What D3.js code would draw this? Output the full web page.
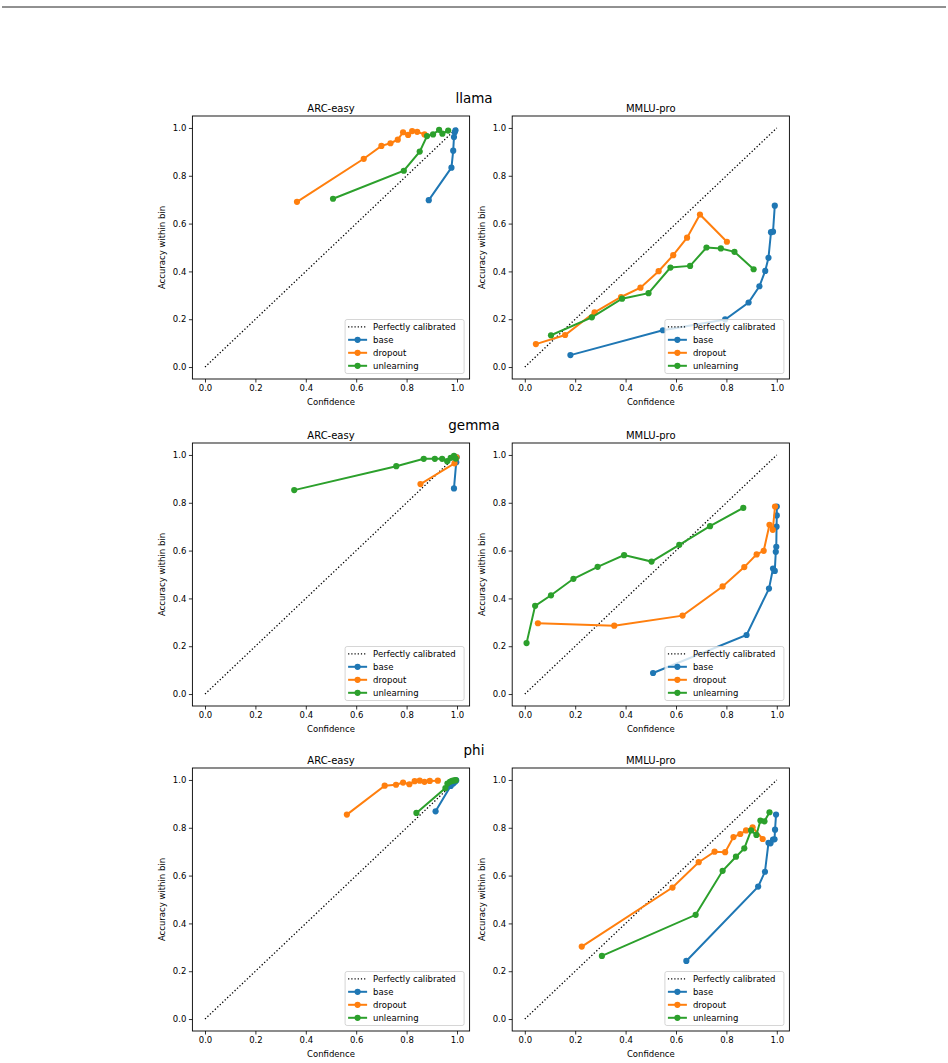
<!DOCTYPE html>
<html><head><meta charset="utf-8">
<script src="https://cdn.jsdelivr.net/npm/d3@7/dist/d3.min.js"></script>
<style>body{margin:0;background:#fff}svg{display:block}text{font-family:"DejaVu Sans",sans-serif}</style>
</head><body>
<script>
const models = ["llama", "gemma", "phi"];
const datasets = ["ARC-easy", "MMLU-pro"];
const seriesNames = ["base", "dropout", "unlearning"];
const seriesColors = ["#1f77b4", "#ff7f0e", "#2ca02c"];
const tickValues = [0, 0.2, 0.4, 0.6, 0.8, 1.0];
const tickLabels = ["0.0", "0.2", "0.4", "0.6", "0.8", "1.0"];

// [confidence, accuracy] pairs
const llamaArcBase = [[0.888,0.698],[0.978,0.834],[0.985,0.905],[0.988,0.962],[0.991,0.982],[0.994,0.99]];
const llamaArcDropout = [[0.365,0.691],[0.63,0.871],[0.70,0.925],[0.736,0.936],[0.765,0.951],[0.786,0.982],[0.806,0.971],[0.822,0.987],[0.842,0.984],[0.871,0.973]];
const llamaArcUnlearning = [[0.508,0.704],[0.789,0.821],[0.852,0.901],[0.881,0.966],[0.905,0.973],[0.929,0.992],[0.942,0.976],[0.965,0.989]];
const llamaMmluBase = [[0.181,0.050],[0.548,0.154],[0.795,0.199],[0.888,0.270],[0.931,0.338],[0.954,0.402],[0.967,0.457],[0.977,0.564],[0.985,0.566],[0.992,0.675]];
const llamaMmluDropout = [[0.044,0.096],[0.160,0.134],[0.277,0.229],[0.382,0.293],[0.459,0.332],[0.531,0.401],[0.589,0.468],[0.644,0.541],[0.695,0.638],[0.802,0.524]];
const llamaMmluUnlearning = [[0.104,0.133],[0.266,0.208],[0.386,0.286],[0.491,0.309],[0.578,0.416],[0.656,0.423],[0.721,0.500],[0.778,0.496],[0.832,0.482],[0.908,0.409]];

const gemmaArcBase = [[0.988,0.86],[0.997,0.97],[0.999,0.99]];
const gemmaArcDropout = [[0.855,0.878],[0.99,0.965],[0.995,0.985],[0.998,0.99]];
const gemmaArcUnlearning = [[0.354,0.853],[0.759,0.953],[0.868,0.984],[0.912,0.984],[0.941,0.984],[0.961,0.974],[0.975,0.988],[0.988,0.996],[0.995,0.985]];
const gemmaMmluBase = [[0.509,0.088],[0.880,0.247],[0.969,0.441],[0.985,0.525],[0.992,0.515],[0.996,0.595],[0.998,0.616],[0.999,0.70],[1.0,0.747],[1.0,0.784]];
const gemmaMmluDropout = [[0.052,0.296],[0.355,0.286],[0.626,0.328],[0.785,0.450],[0.871,0.531],[0.920,0.584],[0.948,0.599],[0.971,0.708],[0.984,0.687],[0.993,0.784]];
const gemmaMmluUnlearning = [[0.007,0.213],[0.041,0.369],[0.104,0.413],[0.193,0.482],[0.289,0.532],[0.394,0.581],[0.503,0.554],[0.613,0.624],[0.735,0.702],[0.867,0.779]];

const phiArcBase = [[0.915,0.869],[0.975,0.975],[0.985,0.985],[0.992,0.993],[0.997,0.998]];
const phiArcDropout = [[0.563,0.855],[0.713,0.976],[0.758,0.980],[0.786,0.989],[0.811,0.982],[0.832,0.995],[0.852,0.997],[0.871,0.992],[0.892,0.996],[0.924,0.997]];
const phiArcUnlearning = [[0.839,0.862],[0.954,0.966],[0.962,0.985],[0.972,0.992],[0.98,0.996],[0.988,0.998],[0.995,0.999]];
const phiMmluBase = [[0.641,0.243],[0.926,0.554],[0.953,0.616],[0.967,0.737],[0.975,0.735],[0.985,0.751],[0.991,0.752],[0.993,0.792],[0.997,0.855]];
const phiMmluDropout = [[0.226,0.303],[0.586,0.550],[0.690,0.656],[0.753,0.700],[0.795,0.698],[0.828,0.761],[0.855,0.774],[0.878,0.789],[0.904,0.802],[0.944,0.753]];
const phiMmluUnlearning = [[0.306,0.264],[0.678,0.436],[0.785,0.620],[0.838,0.679],[0.871,0.714],[0.898,0.789],[0.919,0.770],[0.935,0.830],[0.951,0.827],[0.971,0.865]];

const panels = [
  [[llamaArcBase, llamaArcDropout, llamaArcUnlearning], [llamaMmluBase, llamaMmluDropout, llamaMmluUnlearning]],
  [[gemmaArcBase, gemmaArcDropout, gemmaArcUnlearning], [gemmaMmluBase, gemmaMmluDropout, gemmaMmluUnlearning]],
  [[phiArcBase, phiArcDropout, phiArcUnlearning], [phiMmluBase, phiMmluDropout, phiMmluUnlearning]]
];

const W = 948, H = 1063;
const svg = d3.select("body").append("svg").attr("width", W).attr("height", H);

svg.append("line").attr("x1", 2).attr("x2", 946).attr("y1", 7).attr("y2", 7)
  .attr("stroke", "#222").attr("stroke-width", 1);

const rowTops = [116, 443, 768];
const colLefts = [192.4, 512.2];
const pw = 277.2, ph = 263;

const x = d3.scaleLinear().domain([-0.05, 1.05]).range([0, pw]);
const y = d3.scaleLinear().domain([-0.05, 1.05]).range([ph, 0]);

models.forEach((m, r) => {
  svg.append("text").attr("x", 474).attr("y", rowTops[r] - 13).attr("text-anchor", "middle")
    .attr("font-size", 13.5).text(m);
  datasets.forEach((ds, c) => {
    const g = svg.append("g").attr("transform", `translate(${colLefts[c]},${rowTops[r]})`);
    g.append("text").attr("x", pw / 2).attr("y", -4).attr("text-anchor", "middle")
      .attr("font-size", 10).text(ds);

    const xa = g.append("g").attr("transform", `translate(0,${ph})`)
      .call(d3.axisBottom(x).tickValues(tickValues).tickFormat((d, i) => tickLabels[i]).tickSize(3.5).tickPadding(2.5));
    const ya = g.append("g")
      .call(d3.axisLeft(y).tickValues(tickValues).tickFormat((d, i) => tickLabels[i]).tickSize(3.5).tickPadding(2.5));
    [xa, ya].forEach(a => {
      a.select(".domain").remove();
      a.selectAll("text").attr("font-size", 8.5).attr("fill", "#000").attr("font-family", "DejaVu Sans");
      a.selectAll("line").attr("stroke", "#000").attr("stroke-width", 0.8);
    });
    g.append("text").attr("x", pw / 2).attr("y", ph + 26).attr("text-anchor", "middle")
      .attr("font-size", 8.5).text("Confidence");
    g.append("text").attr("transform", `translate(${-27},${ph / 2}) rotate(-90)`).attr("text-anchor", "middle")
      .attr("font-size", 8.5).text("Accuracy within bin");

    const clipId = `clip${r}${c}`;
    g.append("clipPath").attr("id", clipId).append("rect").attr("width", pw).attr("height", ph);
    const plot = g.append("g").attr("clip-path", `url(#${clipId})`);

    plot.append("line").attr("x1", x(0)).attr("y1", y(0)).attr("x2", x(1)).attr("y2", y(1))
      .attr("stroke", "#000").attr("stroke-width", 1.3).attr("stroke-dasharray", "1.3,2.1");

    const line = d3.line().x(d => x(d[0])).y(d => y(d[1]));
    panels[r][c].forEach((data, s) => {
      plot.append("path").datum(data).attr("d", line).attr("fill", "none")
        .attr("stroke", seriesColors[s]).attr("stroke-width", 2);
      plot.selectAll(null).data(data).enter().append("circle")
        .attr("cx", d => x(d[0])).attr("cy", d => y(d[1])).attr("r", 3.1)
        .attr("fill", seriesColors[s]);
    });

    g.append("rect").attr("width", pw).attr("height", ph).attr("fill", "none")
      .attr("stroke", "#000").attr("stroke-width", 0.9);

    // legend
    const lw = 119, lh = 54;
    const lg = g.append("g").attr("transform", `translate(${pw - 5.5 - lw},${ph - 5.5 - lh})`);
    lg.append("rect").attr("width", lw).attr("height", lh).attr("rx", 2)
      .attr("fill", "#fff").attr("fill-opacity", 0.8).attr("stroke", "#ccc").attr("stroke-width", 0.8);
    const entries = ["Perfectly calibrated"].concat(seriesNames);
    entries.forEach((t, i) => {
      const yy = 7.3 + i * 13;
      if (i === 0) {
        lg.append("line").attr("x1", 3).attr("x2", 22).attr("y1", yy).attr("y2", yy)
          .attr("stroke", "#000").attr("stroke-width", 1.2).attr("stroke-dasharray", "1.2,2");
      } else {
        lg.append("line").attr("x1", 3).attr("x2", 22).attr("y1", yy).attr("y2", yy)
          .attr("stroke", seriesColors[i - 1]).attr("stroke-width", 2);
        lg.append("circle").attr("cx", 12.5).attr("cy", yy).attr("r", 3.1).attr("fill", seriesColors[i - 1]);
      }
      lg.append("text").attr("x", 28).attr("y", yy).attr("dy", "0.35em").attr("font-size", 8.5).text(t);
    });
  });
});
</script>
</body></html>
